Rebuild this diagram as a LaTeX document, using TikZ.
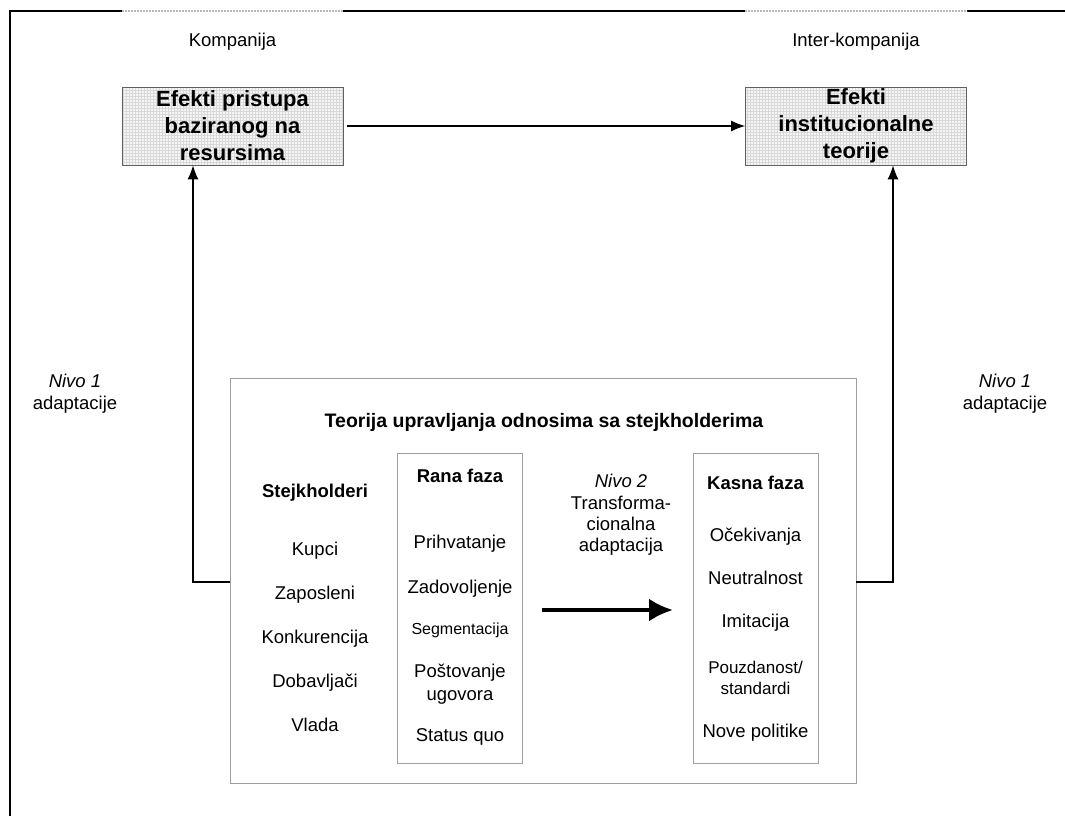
\documentclass[tikz,border=0pt]{standalone}
\usepackage{fontspec}
\setmainfont{Liberation Sans}
\usetikzlibrary{arrows.meta,patterns}
\begin{document}
\begin{tikzpicture}[x=1pt,y=-1pt,
  lbl/.style={font=\fontsize{18.5}{22}\selectfont, inner sep=0pt, text height=13.5pt, text depth=4pt},
  blbl/.style={lbl, font=\fontsize{18.5}{22}\selectfont\bfseries},
  small/.style={lbl, font=\fontsize{16}{20}\selectfont},
  multi/.style={font=\fontsize{18.5}{23}\selectfont, inner sep=0pt, align=center},
  effbox/.style={draw=gray!75!black, line width=0.8pt, preaction={fill=gray!8},
    pattern=grid, pattern color=gray!30, minimum width=221pt, minimum height=78pt,
    inner sep=0pt, align=center, font=\fontsize{22}{27}\selectfont\bfseries},
  panel/.style={draw=gray!75, line width=0.9pt, inner sep=0pt},
  arr/.style={line width=1.1pt, -{Latex[length=14pt,width=11pt]}},
  bigarr/.style={line width=4pt, -{Latex[length=24pt,width=23pt]}}
]
\useasboundingbox (0,0) rectangle (1065,816);

% outer frame: left and top edges
\draw[line width=2.4pt] (10,816) -- (10,11) -- (122,11);
\draw[line width=2.4pt] (343,11) -- (745,11);
\draw[line width=2.4pt] (967,11) -- (1065,11);
\draw[gray!55, line width=1.6pt, dash pattern=on 2pt off 1pt] (122,11) -- (343,11);
\draw[gray!55, line width=1.6pt, dash pattern=on 2pt off 1pt] (745,11) -- (967,11);

% column headings
\node[lbl] (komp) at (232.5,42) {Kompanija};
\node[lbl] (inter) at (856,42) {Inter-kompanija};

% effect boxes
\node[effbox] (rbv) at (232.5,126) {Efekti pristupa\\baziranog na\\resursima};
\node[effbox] (inst) at (856,126) {Efekti\\institucionalne\\teorije};

% stakeholder panel and its two phase columns
\node[panel, minimum width=626pt, minimum height=405pt] (theory) at (543,580.5) {};
\node[panel, minimum width=125pt, minimum height=310pt] (rana) at (459.5,608) {};
\node[panel, minimum width=125pt, minimum height=310pt] (kasna) at (755.5,608) {};

\node[blbl, font=\fontsize{19.5}{22}\selectfont\bfseries] (ttl) at (544,423)
  {Teorija upravljanja odnosima sa stejkholderima};

% stakeholders
\node[blbl] (stk) at (315,493) {Stejkholderi};
\node[lbl] (s1) at (315,551) {Kupci};
\node[lbl] (s2) at (315,595) {Zaposleni};
\node[lbl] (s3) at (315,639) {Konkurencija};
\node[lbl] (s4) at (315,683) {Dobavljači};
\node[lbl] (s5) at (315,727) {Vlada};

% early phase
\node[blbl] (r0) at (460,478) {Rana faza};
\node[lbl] (r1) at (460,544) {Prihvatanje};
\node[lbl] (r2) at (460,589) {Zadovoljenje};
\node[small] (r3) at (460,630) {Segmentacija};
\node[multi] (r4) at (460,684) {Poštovanje\\ugovora};
\node[lbl] (r5) at (460,737) {Status quo};

% late phase
\node[blbl] (k0) at (755.5,485) {Kasna faza};
\node[lbl] (k1) at (755.5,537) {Očekivanja};
\node[lbl] (k2) at (755.5,580) {Neutralnost};
\node[lbl] (k3) at (755.5,623) {Imitacija};
\node[multi, font=\fontsize{17}{20.5}\selectfont] (k4) at (755.5,678) {Pouzdanost/\\standardi};
\node[lbl] (k5) at (755.5,733) {Nove politike};

% level 2 label
\node[multi, font=\fontsize{18.5}{21.3}\selectfont] (n2) at (621,515)
  {\itshape Nivo 2\\Transforma-\\cionalna\\adaptacija};

% level 1 labels
\node[multi, font=\fontsize{18.5}{22}\selectfont] (n1l) at (75,394) {\itshape Nivo 1\\adaptacije};
\node[multi, font=\fontsize{18.5}{22}\selectfont] (n1r) at (1005,394) {\itshape Nivo 1\\adaptacije};

% connectors
\draw[arr] ([xshift=4pt]rbv.east) -- (inst.west);
\coordinate (lc) at (193,582);
\coordinate (rc) at (893,582);
\draw[arr] (theory.west |- lc) -- (lc) -- (lc |- rbv.south);
\draw[arr] (theory.east |- rc) -- (rc) -- (rc |- inst.south);
\coordinate (t1) at (542,610);
\coordinate (t2) at (673,610);
\draw[bigarr] (t1) -- (t2);
\end{tikzpicture}
\end{document}
